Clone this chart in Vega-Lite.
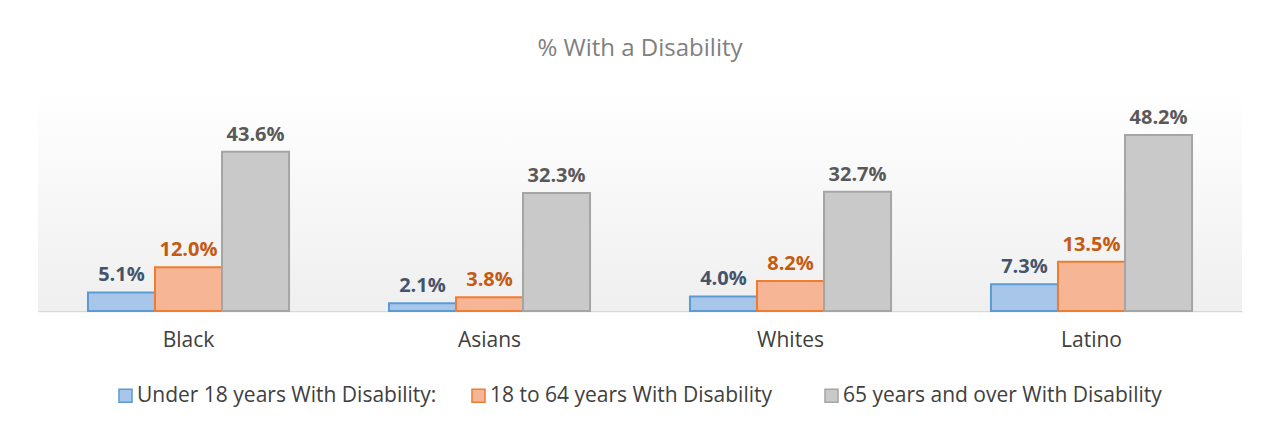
{
  "$schema": "https://vega.github.io/schema/vega-lite/v6.json",
  "autosize": "none",
  "width": 1204,
  "height": 219,
  "padding": {"left": 38, "top": 92, "right": 28, "bottom": 116},
  "background": "white",
  "title": {
    "text": "% With a Disability",
    "font": "Open Sans",
    "fontSize": 24,
    "fontWeight": "normal",
    "color": "#808080",
    "offset": 31,
    "anchor": "middle"
  },
  "config": {
    "view": {"stroke": null},
    "font": "Open Sans"
  },
  "datasets": {
    "bg": [{"lo": 0, "hi": 60}],
    "main": [
      {"group": "Black", "series": "Under 18 years With Disability:", "value": 5.1, "label": "5.1%"},
      {"group": "Black", "series": "18 to 64 years With Disability", "value": 12.0, "label": "12.0%"},
      {"group": "Black", "series": "65 years and over With Disability", "value": 43.6, "label": "43.6%"},
      {"group": "Asians", "series": "Under 18 years With Disability:", "value": 2.1, "label": "2.1%"},
      {"group": "Asians", "series": "18 to 64 years With Disability", "value": 3.8, "label": "3.8%"},
      {"group": "Asians", "series": "65 years and over With Disability", "value": 32.3, "label": "32.3%"},
      {"group": "Whites", "series": "Under 18 years With Disability:", "value": 4.0, "label": "4.0%"},
      {"group": "Whites", "series": "18 to 64 years With Disability", "value": 8.2, "label": "8.2%"},
      {"group": "Whites", "series": "65 years and over With Disability", "value": 32.7, "label": "32.7%"},
      {"group": "Latino", "series": "Under 18 years With Disability:", "value": 7.3, "label": "7.3%"},
      {"group": "Latino", "series": "18 to 64 years With Disability", "value": 13.5, "label": "13.5%"},
      {"group": "Latino", "series": "65 years and over With Disability", "value": 48.2, "label": "48.2%"}
    ]
  },
  "layer": [
    {
      "data": {"name": "bg"},
      "mark": {
        "type": "rect",
        "color": {
          "gradient": "linear",
          "x1": 0, "y1": 0, "x2": 0, "y2": 1,
          "stops": [
            {"offset": 0, "color": "#FFFFFF"},
            {"offset": 1, "color": "#EFEFEF"}
          ]
        }
      },
      "encoding": {
        "y": {"field": "lo", "type": "quantitative", "scale": {"domain": [0, 60]}, "axis": null},
        "y2": {"field": "hi"}
      }
    },
    {
      "data": {"name": "main"},
      "mark": {"type": "bar", "strokeWidth": 2},
      "encoding": {
        "x": {
          "field": "group", "type": "nominal", "sort": ["Black", "Asians", "Whites", "Latino"],
          "scale": {"paddingInner": 0.332, "paddingOuter": 0.166},
          "axis": {
            "title": null, "labelAngle": 0, "ticks": false, "labelPadding": 18,
            "labelFontSize": 21, "labelColor": "#404040", "labelFont": "Open Sans",
            "domainColor": "#D9D9D9", "domainWidth": 1.5
          }
        },
        "xOffset": {
          "field": "series", "type": "nominal",
          "sort": ["Under 18 years With Disability:", "18 to 64 years With Disability", "65 years and over With Disability"],
          "scale": {"paddingInner": 0, "paddingOuter": 0}
        },
        "y": {"field": "value", "type": "quantitative", "scale": {"domain": [0, 60]}, "axis": null},
        "fill": {
          "field": "series", "type": "nominal",
          "sort": ["Under 18 years With Disability:", "18 to 64 years With Disability", "65 years and over With Disability"],
          "scale": {
            "domain": ["Under 18 years With Disability:", "18 to 64 years With Disability", "65 years and over With Disability"],
            "range": ["#A8C6EA", "#F6B595", "#C9C9C9"]
          },
          "legend": {
            "title": null, "orient": "none", "legendX": 77, "legendY": 293, "direction": "horizontal",
            "labelFontSize": 21, "labelColor": "#404040", "labelFont": "Open Sans", "labelLimit": 600,
            "symbolType": "square", "symbolSize": 170, "symbolStrokeWidth": 1.5,
            "gridAlign": "all", "columnPadding": 12, "labelOffset": 1
          }
        },
        "stroke": {
          "field": "series", "type": "nominal",
          "scale": {
            "domain": ["Under 18 years With Disability:", "18 to 64 years With Disability", "65 years and over With Disability"],
            "range": ["#5B9BD5", "#ED7D31", "#A5A5A5"]
          },
          "legend": {
            "title": null, "orient": "none", "legendX": 77, "legendY": 293, "direction": "horizontal",
            "labelFontSize": 21, "labelColor": "#404040", "labelFont": "Open Sans", "labelLimit": 600,
            "symbolType": "square", "symbolSize": 170, "symbolStrokeWidth": 1.5,
            "gridAlign": "all", "columnPadding": 12, "labelOffset": 1
          }
        }
      }
    },
    {
      "data": {"name": "main"},
      "mark": {"type": "text", "baseline": "bottom", "dy": -7, "fontSize": 20, "fontWeight": "bold", "font": "Open Sans"},
      "encoding": {
        "x": {"field": "group", "type": "nominal", "sort": ["Black", "Asians", "Whites", "Latino"]},
        "xOffset": {
          "field": "series", "type": "nominal",
          "sort": ["Under 18 years With Disability:", "18 to 64 years With Disability", "65 years and over With Disability"]
        },
        "y": {"field": "value", "type": "quantitative"},
        "text": {"field": "label"},
        "color": {
          "field": "series", "type": "nominal", "legend": null,
          "scale": {
            "domain": ["Under 18 years With Disability:", "18 to 64 years With Disability", "65 years and over With Disability"],
            "range": ["#44546A", "#C55A11", "#595959"]
          }
        }
      }
    }
  ]
}
